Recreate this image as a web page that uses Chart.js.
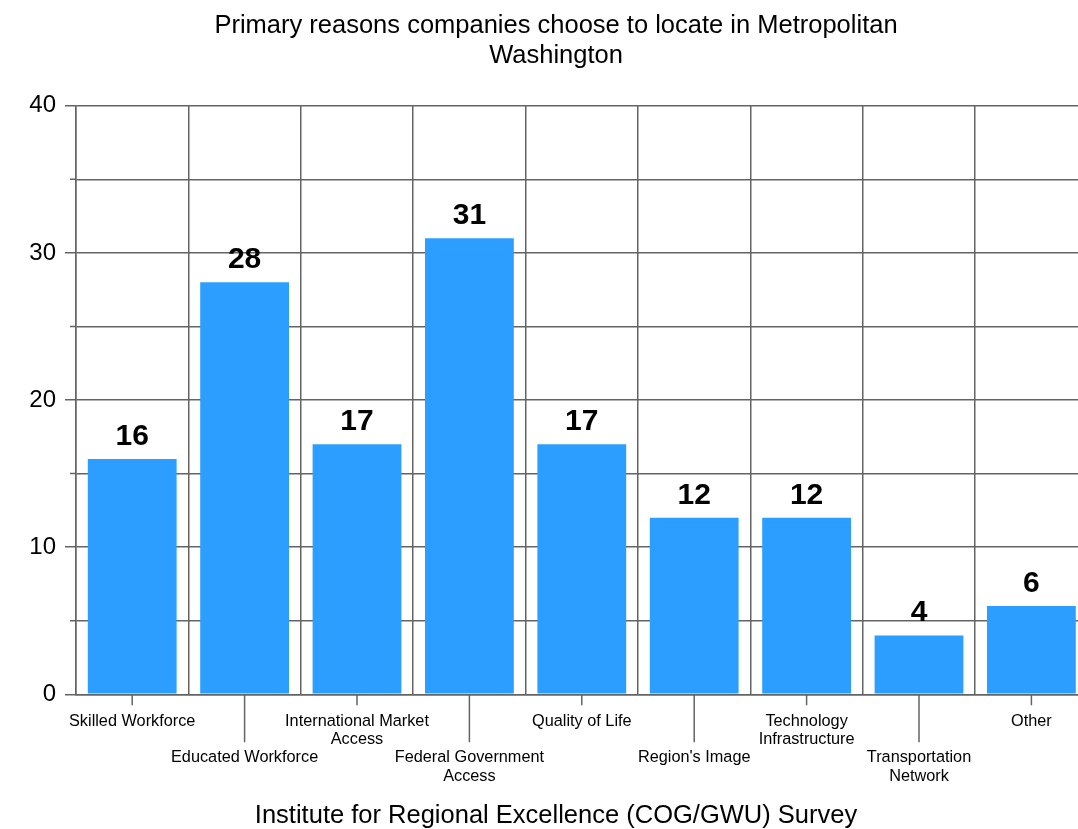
<!DOCTYPE html>
<html>
<head>
<meta charset="utf-8">
<script src="https://cdn.jsdelivr.net/npm/chart.js@4/dist/chart.umd.min.js"></script>
<style>
  html, body { margin: 0; padding: 0; background: #fff; overflow: hidden; }
  #wrap { width: 1112px; height: 829px; }
</style>
</head>
<body>
<div id="wrap"><canvas id="chart"></canvas></div>
<script>
// ---- data ----
const categories = [
  'Skilled Workforce',
  'Educated Workforce',
  ['International Market', 'Access'],
  ['Federal Government', 'Access'],
  'Quality of Life',
  "Region's Image",
  ['Technology', 'Infrastructure'],
  ['Transportation', 'Network'],
  'Other'
];
const values = [16, 28, 17, 31, 17, 12, 12, 4, 6];
const yTicks = [0, 10, 20, 30, 40];

const titleLines = ['Primary reasons companies choose to locate in Metropolitan', 'Washington'];
const sourceText = 'Institute for Regional Excellence (COG/GWU) Survey';

const gridColor = '#646464';
const barColor = '#2c9eff';
const fontFamily = "'Liberation Sans', Arial, sans-serif";

// stagger labels: every second one drops two lines
const staggered = categories.map((c, i) => {
  const lines = Array.isArray(c) ? c : [c];
  return i % 2 ? ['', ''].concat(lines) : lines;
});

// tick marks at bar centres, short minor y ticks, value labels
const extras = {
  id: 'extras',
  afterDatasetsDraw(chart) {
    const { ctx, scales: { x, y } } = chart;
    ctx.save();
    ctx.strokeStyle = gridColor;
    ctx.lineWidth = 1.5;
    ctx.beginPath();
    categories.forEach((c, i) => {
      const px = x.getPixelForValue(i);
      ctx.moveTo(px, y.bottom);
      ctx.lineTo(px, y.bottom + (i % 2 ? 48 : 11));
    });
    y.ticks.forEach(t => {
      if (!yTicks.includes(t.value)) {
        const py = y.getPixelForValue(t.value);
        ctx.moveTo(x.left - 6, py);
        ctx.lineTo(x.left, py);
      }
    });
    ctx.stroke();

    ctx.font = 'bold 30px ' + fontFamily;
    ctx.fillStyle = '#000';
    ctx.textAlign = 'center';
    ctx.textBaseline = 'alphabetic';
    chart.getDatasetMeta(0).data.forEach((bar, i) => {
      ctx.fillText(values[i], bar.x, bar.y - 14);
    });
    ctx.restore();
  }
};

new Chart(document.getElementById('chart'), {
  type: 'bar',
  data: {
    labels: staggered,
    datasets: [{
      data: values,
      backgroundColor: barColor,
      borderWidth: 0,
      categoryPercentage: 1,
      barPercentage: 0.79
    }]
  },
  plugins: [extras],
  options: {
    responsive: true,
    maintainAspectRatio: false,
    animation: false,
    layout: { padding: 0 },
    plugins: {
      legend: { display: false },
      tooltip: { enabled: false },
      title: {
        display: true,
        text: titleLines,
        color: '#000',
        font: { family: fontFamily, size: 25.5, weight: 'normal', lineHeight: 1.15 },
        padding: { top: 11.5, bottom: 35.6 }
      },
      subtitle: {
        display: true,
        position: 'bottom',
        text: sourceText,
        color: '#000',
        font: { family: fontFamily, size: 25.5, weight: 'normal', lineHeight: 1 },
        padding: { top: 10, bottom: 0 }
      }
    },
    scales: {
      x: {
        afterFit: scale => { scale.height = 99.2; },
        grid: {
          offset: true,
          color: gridColor,
          lineWidth: 1.5,
          drawTicks: false
        },
        border: { color: gridColor, width: 1.5 },
        ticks: {
          autoSkip: false,
          maxRotation: 0,
          minRotation: 0,
          padding: 18,
          color: '#000',
          font: { family: fontFamily, size: 16.3, lineHeight: 1.12 }
        }
      },
      y: {
        min: 0,
        max: 40,
        afterFit: scale => { scale.width = 76; },
        grid: {
          color: gridColor,
          lineWidth: 1.5,
          tickLength: 11,
          tickColor: ctx => yTicks.includes(ctx.tick.value) ? gridColor : 'rgba(0,0,0,0)'
        },
        border: { color: gridColor, width: 1.5 },
        ticks: {
          stepSize: 5,
          padding: 9,
          color: '#000',
          font: { family: fontFamily, size: 24 },
          callback: v => yTicks.includes(v) ? v : ''
        }
      },
      // empty right-hand box so the plot ends past the page edge while titles stay centred on the full canvas
      spacer: {
        type: 'linear',
        position: 'right',
        display: true,
        afterFit: scale => { scale.width = 24.4; },
        grid: { drawOnChartArea: false, drawTicks: false },
        border: { display: false },
        ticks: { display: false }
      }
    }
  }
});
</script>
</body>
</html>
